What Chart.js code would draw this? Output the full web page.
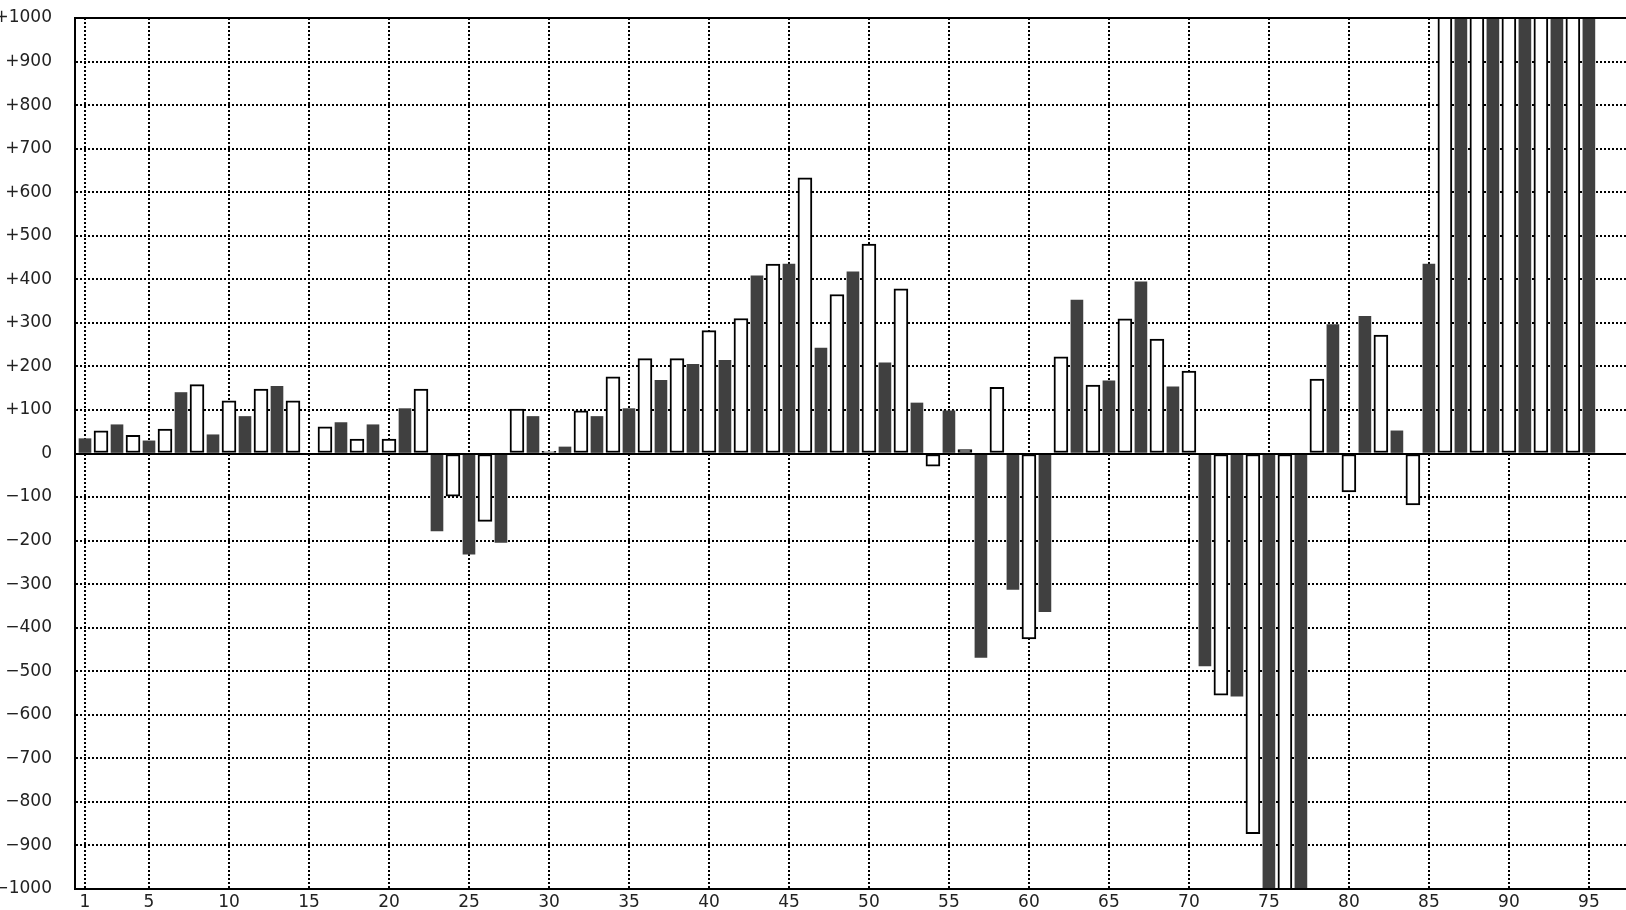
<!DOCTYPE html>
<html>
<head>
<meta charset="utf-8">
<script src="https://cdn.jsdelivr.net/npm/chart.js@4.4.1/dist/chart.umd.min.js"></script>
<style>
  html, body { margin: 0; padding: 0; background: #fff; overflow: hidden; }
  #wrap { width: 1626px; height: 910px; position: relative; }
  canvas { display: block; }
</style>
</head>
<body>
<div id="wrap"><canvas id="c" width="1626" height="910"></canvas></div>
<script>
// ---- data ----
const days = [1,2,3,4,5,6,7,8,9,10,11,12,13,14,15,16,17,18,19,20,21,22,23,24,25,26,27,28,29,30,
  31,32,33,34,35,36,37,38,39,40,41,42,43,44,45,46,47,48,49,50,51,52,53,54,55,56,57,58,59,60,
  61,62,63,64,65,66,67,68,69,70,71,72,73,74,75,76,77,78,79,80,81,82,83,84,85,86,87,88,89,90,
  91,92,93,94,95];
const values = [34,52,66,42,29,56,140,158,43,121,85,148,154,121,0,61,71,33,66,33,
  103,148,-178,-98,-231,-156,-204,102,85,5,15,98,85,176,103,218,168,218,205,282,
  214,310,408,435,435,633,242,365,417,481,208,378,116,-29,98,9,-468,152,-312,-426,
  -363,222,352,157,167,309,394,263,153,189,-488,-555,-557,-873,-1150,-1150,-1150,171,296,-88,
  315,272,52,-118,435,1150,1150,1150,1150,1150,1150,1150,1150,1150,1150];
const xTickValues = [1,5,10,15,20,25,30,35,40,45,50,55,60,65,70,75,80,85,90,95];
const yMin = -1000, yMax = 1000, yStep = 100;

// ---- build datasets ----
const darkPts = [], whitePts = [];
days.forEach((d, i) => {
  const p = { x: d, y: values[i] };
  if (d % 2 === 1) darkPts.push(p); else whitePts.push(p);
});

const FONT = { family: 'DejaVu Sans', size: 17 };
const X_MIN = 0.375, X_MAX = 97.32;

function fmtY(v) {
  if (v > 0) return '+' + v;
  if (v < 0) return '\u2212' + (-v);
  return '0';
}

new Chart(document.getElementById('c'), {
  type: 'bar',
  data: {
    datasets: [
      {
        label: 'dark',
        data: darkPts,
        backgroundColor: '#404040',
        borderWidth: 0,
        barThickness: 12,
        clip: 0,
        xAxisID: 'x', yAxisID: 'y'
      },
      {
        label: 'white',
        data: whitePts,
        backgroundColor: '#ffffff',
        borderColor: '#000000',
        borderWidth: 2,
        borderSkipped: false,
        barThickness: 14,
        clip: 0,
        xAxisID: 'x', yAxisID: 'y'
      }
    ]
  },
  options: {
    responsive: false,
    animation: false,
    devicePixelRatio: 1,
    grouped: false,
    layout: { padding: { top: 18, left: 0, right: 0, bottom: 0 } },
    plugins: { legend: { display: false }, tooltip: { enabled: false } },
    scales: {
      x: {
        type: 'linear',
        position: 'bottom',
        offset: false,
        min: X_MIN, max: X_MAX,
        afterBuildTicks: s => { s.ticks = xTickValues.map(v => ({ value: v })); },
        afterFit: s => { s.height = 21; s.paddingLeft = 0; s.paddingRight = 0; },
        ticks: {
          autoSkip: false, maxRotation: 0, minRotation: 0, padding: 3,
          color: '#222', font: FONT,
          callback: v => String(v)
        },
        grid: { offset: false, color: '#000', lineWidth: 2, drawTicks: false },
        border: { display: true, color: '#000', width: 2, dash: [2, 2], z: 1 }
      },
      xTop: {
        type: 'linear',
        position: 'top',
        offset: false,
        min: X_MIN, max: X_MAX,
        afterFit: s => { s.height = 0; s.paddingLeft = 0; s.paddingRight = 0; },
        ticks: { display: false },
        grid: { display: false, drawTicks: false, offset: false },
        border: { display: true, color: '#000', width: 2, z: 1 }
      },
      y: {
        type: 'linear',
        position: 'left',
        min: yMin, max: yMax,
        afterFit: s => { s.width = 75; s.paddingTop = 0; s.paddingBottom = 0; },
        ticks: {
          stepSize: yStep, padding: 23,
          color: '#222', font: FONT,
          callback: v => fmtY(v)
        },
        grid: { color: '#000', lineWidth: 2, drawTicks: false },
        border: { display: true, color: '#000', width: 2, dash: [2, 2], z: 1 }
      },
      yZero: {
        type: 'linear',
        position: 'left',
        min: yMin, max: yMax,
        afterBuildTicks: s => { s.ticks = [{ value: 0 }]; },
        afterFit: s => { s.width = 0; s.paddingTop = 0; s.paddingBottom = 0; },
        ticks: { display: false },
        grid: { color: '#000', lineWidth: 2, drawTicks: false, z: 1 },
        border: { display: false }
      }
    }
  }
});
</script>
</body>
</html>
